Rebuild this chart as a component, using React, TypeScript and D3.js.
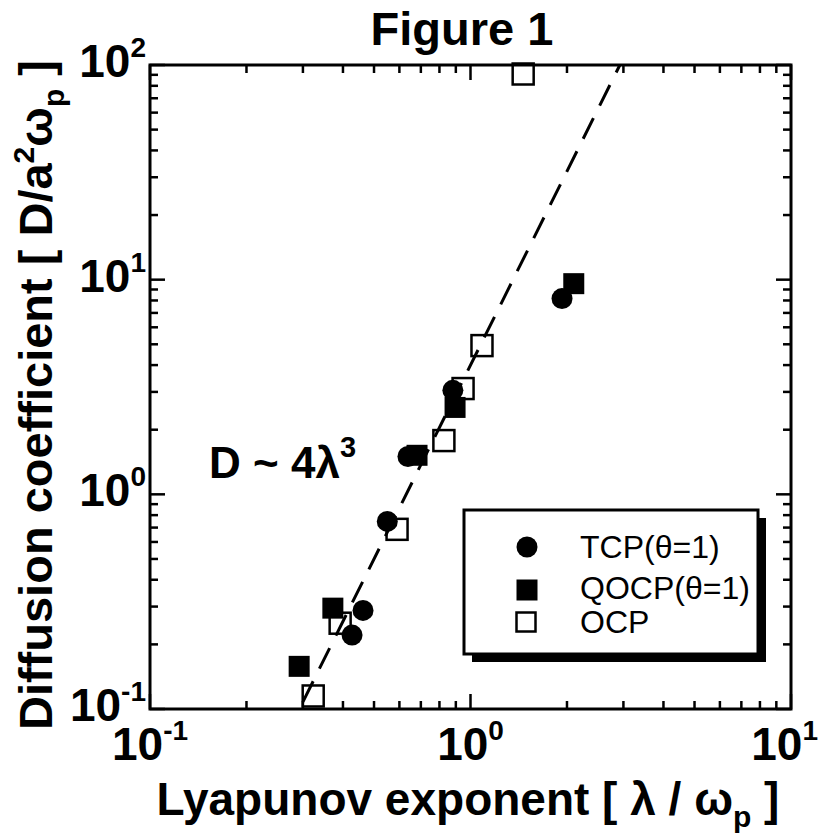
import React from "react";
import * as d3 from "d3";

// TCP(theta=1) filled circles
const tcpX = [0.427, 0.462, 0.55, 0.638, 0.881, 1.93];
const tcpY = [0.221, 0.288, 0.748, 1.5, 3.05, 8.16];
// QOCP(theta=1) filled squares
const qocpX = [0.292, 0.372, 0.681, 0.895, 2.1];
const qocpY = [0.158, 0.295, 1.52, 2.54, 9.58];
// OCP open squares
const ocpX = [0.323, 0.392, 0.59, 0.826, 0.948, 1.086, 1.46];
const ocpY = [0.115, 0.251, 0.687, 1.78, 3.11, 4.93, 90.8];

// fit D ~ 4 lambda^3
const fitCoef = 4;
const fitPow = 3;
const fitStart = 0.3;

const xDecades = [0.1, 1, 10];
const xExps = ["-1", "0", "1"];
const yDecades = [0.1, 1, 10, 100];
const yExps = ["-1", "0", "1", "2"];

const legendNames = ["TCP(\u03b8=1)", "QOCP(\u03b8=1)", "OCP"];

const W = 819;
const H = 838;
const left = 150,
  right = 791,
  top = 65,
  bottom = 709;

const font = "'Liberation Sans', Arial, Helvetica, sans-serif";

export default function App() {
  const x = d3.scaleLog().domain([0.1, 10]).range([left, right]);
  const y = d3.scaleLog().domain([0.1, 100]).range([bottom, top]);

  const isMajor = (v: number) => Math.abs(Math.log10(v) - Math.round(Math.log10(v))) < 1e-6;
  const xt = x.ticks();
  const yt = y.ticks();

  const fitEnd = Math.pow(100 / fitCoef, 1 / fitPow);
  const fitLine = d3
    .line<number>()
    .x((d) => x(d))
    .y((d) => y(fitCoef * Math.pow(d, fitPow)))([fitStart, fitEnd]);

  const sq = 21;
  const r = 10.5;

  // legend box
  const lx = 464,
    ly = 510,
    lw = 294,
    lh = 144,
    sh = 8;

  return (
    <div>
      <style>{`body{margin:0}`}</style>
      <svg width={W} height={H} style={{ display: "block", background: "#fff" }} fontFamily={font}>
        <text x={462} y={45} textAnchor="middle" fontSize={47} fontWeight="bold">
          Figure 1
        </text>

        {/* ticks */}
        <g stroke="#000" strokeWidth={2.5}>
          {xt.map((v, i) => {
            const len = isMajor(v) ? 15 : 8;
            return (
              <g key={"x" + i}>
                <line x1={x(v)} x2={x(v)} y1={bottom} y2={bottom - len} />
                <line x1={x(v)} x2={x(v)} y1={top} y2={top + len} />
              </g>
            );
          })}
          {yt.map((v, i) => {
            const len = isMajor(v) ? 15 : 8;
            return (
              <g key={"y" + i}>
                <line x1={left} x2={left + len} y1={y(v)} y2={y(v)} />
                <line x1={right} x2={right - len} y1={y(v)} y2={y(v)} />
              </g>
            );
          })}
        </g>
        <rect x={left} y={top} width={right - left} height={bottom - top} fill="none" stroke="#000" strokeWidth={3} />

        {/* tick labels */}
        {xDecades.map((v, i) => {
          const last = i === xDecades.length - 1;
          return (
            <text
              key={"xl" + i}
              x={last ? W - 1 : x(v)}
              y={bottom + 51}
              textAnchor={last ? "end" : "middle"}
              fontSize={46}
              fontWeight="bold"
            >
              10
              <tspan fontSize={28} dy={-20}>
                {xExps[i]}
              </tspan>
            </text>
          );
        })}
        {yDecades.map((v, i) => (
          <text key={"yl" + i} x={146} y={y(v) + 12} textAnchor="end" fontSize={46} fontWeight="bold">
            10
            <tspan fontSize={28} dy={-20}>
              {yExps[i]}
            </tspan>
          </text>
        ))}

        {/* axis titles */}
        <text x={468} y={815} textAnchor="middle" fontSize={46} fontWeight="bold">
          Lyapunov exponent [ {"\u03bb"} / {"\u03c9"}
          <tspan fontSize={30} dy={12}>p</tspan>
          <tspan dy={-12}> ]</tspan>
        </text>
        <text
          transform={`translate(52, ${(top + bottom) / 2 + 8}) rotate(-90)`}
          textAnchor="middle"
          fontSize={47}
          fontWeight="bold"
        >
          Diffusion coefficient [ D/a
          <tspan fontSize={30} dy={-18}>2</tspan>
          <tspan dy={18}>{"\u03c9"}</tspan>
          <tspan fontSize={30} dy={12}>p</tspan>
          <tspan dy={-12}> ]</tspan>
        </text>

        {/* fit line */}
        <path d={fitLine || ""} fill="none" stroke="#000" strokeWidth={3} strokeDasharray="23 14" />
        <text x={209} y={478} fontSize={44} fontWeight="bold">
          D ~ 4{"\u03bb"}
          <tspan fontSize={29} dy={-21}>3</tspan>
        </text>

        {/* data */}
        {ocpX.map((v, i) => (
          <rect
            key={"o" + i}
            x={x(v) - sq / 2}
            y={y(ocpY[i]) - sq / 2}
            width={sq}
            height={sq}
            fill="none"
            stroke="#000"
            strokeWidth={2.5}
          />
        ))}
        {qocpX.map((v, i) => (
          <rect key={"q" + i} x={x(v) - sq / 2} y={y(qocpY[i]) - sq / 2} width={sq} height={sq} fill="#000" />
        ))}
        {tcpX.map((v, i) => (
          <circle key={"t" + i} cx={x(v)} cy={y(tcpY[i])} r={r} fill="#000" />
        ))}

        {/* legend */}
        <rect x={lx + sh} y={ly + sh} width={lw} height={lh} fill="#000" />
        <rect x={lx} y={ly} width={lw} height={lh} fill="#fff" stroke="#000" strokeWidth={3} />
        <circle cx={lx + 63} cy={ly + 37} r={r} fill="#000" />
        <rect x={lx + 63 - sq / 2} y={ly + 80 - sq / 2} width={sq} height={sq} fill="#000" />
        <rect x={lx + 63 - sq / 2} y={ly + 113 - sq / 2} width={sq - 2} height={sq - 2} fill="none" stroke="#000" strokeWidth={2.5} />
        {legendNames.map((n, i) => (
          <text key={"ln" + i} x={lx + 116} y={ly + 48 + [0, 41, 75][i]} fontSize={32}>
            {n}
          </text>
        ))}
      </svg>
    </div>
  );
}
